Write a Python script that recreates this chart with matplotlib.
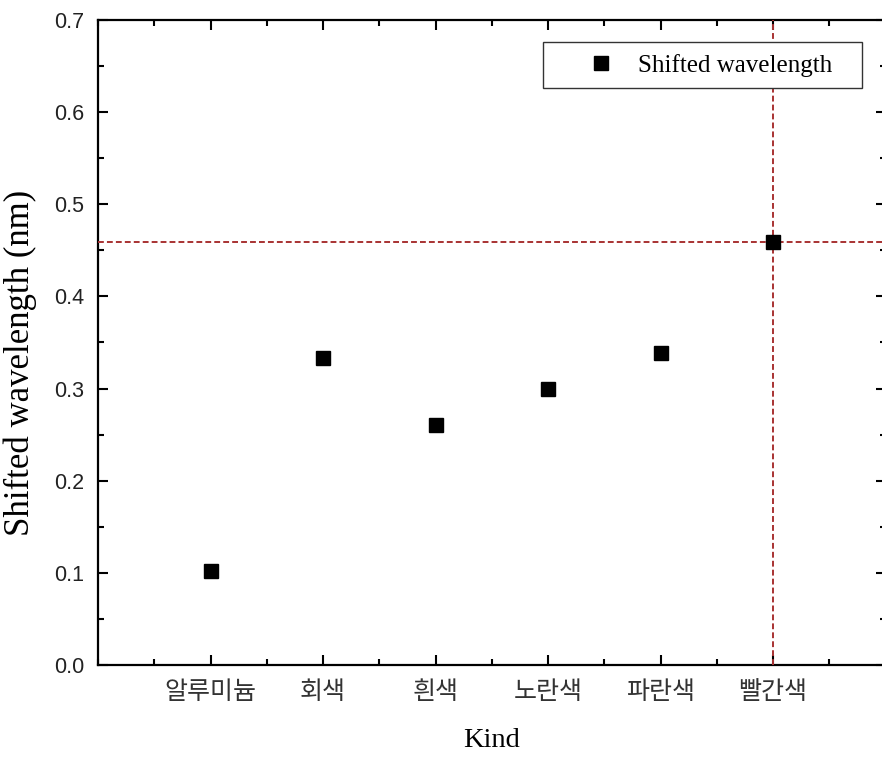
import matplotlib
matplotlib.use("Agg")
import matplotlib.pyplot as plt
from matplotlib.patches import Rectangle
from matplotlib.ticker import MultipleLocator, FormatStrFormatter

# Data
kinds = ["알루미늄", "회색", "흰색", "노란색", "파란색", "빨간색"]
shifted_nm = [0.102, 0.333, 0.261, 0.300, 0.339, 0.459]
ref_kind_pos = 6          # vertical guide at 빨간색
ref_shift = 0.459         # horizontal guide

W, H = 882, 757
fig = plt.figure(figsize=(W / 100, H / 100), dpi=100)
# right spine sits just outside the canvas, as in the reference
ax = fig.add_axes([98 / W, 1 - 665 / H, 787.6 / W, 645 / H])

x = list(range(1, len(kinds) + 1))
ax.plot(x, shifted_nm, linestyle="none", marker="s", markersize=10,
        color="black", label="Shifted wavelength", zorder=5)

guide = dict(color="#a83232", linestyle=(0, (3, 1.6)), linewidth=1.4, zorder=3)
ax.axhline(ref_shift, **guide)
ax.axvline(ref_kind_pos, **guide)

ax.set_xlim(0, 7)
ax.set_ylim(0, 0.7)
ax.set_xticks(x)
ax.set_xticklabels(kinds, family=["Noto Sans CJK KR", "DejaVu Sans"],
                   fontsize=18, color="#333333")
ax.xaxis.set_minor_locator(MultipleLocator(0.5))
ax.yaxis.set_major_locator(MultipleLocator(0.1))
ax.yaxis.set_minor_locator(MultipleLocator(0.05))
ax.yaxis.set_major_formatter(FormatStrFormatter("%.1f"))
for lab in ax.get_yticklabels():
    lab.set_family("Liberation Sans")
    lab.set_fontsize(15.5)
    lab.set_color("#222222")

ax.tick_params(which="both", direction="in", top=True, right=True, width=1.5)
ax.tick_params(which="major", length=7)
ax.tick_params(which="minor", length=4.5)
ax.tick_params(axis="y", which="major", pad=10)
ax.tick_params(axis="x", which="major", pad=10)
for s in ax.spines.values():
    s.set_linewidth(1.6)

ax.set_xlabel("Kind", family="Liberation Serif", fontsize=20.5)
ax.xaxis.set_label_coords(0.5, -0.097)
ax.set_ylabel("Shifted wavelength (nm)", family="Liberation Serif", fontsize=25)
ax.yaxis.set_label_coords(-0.078, 0.468)

# legend frame drawn separately so padding matches the reference box
ax.add_patch(Rectangle((0.565, 0.8946), 0.405, 0.0713, transform=ax.transAxes,
                       facecolor="white", edgecolor="#333333", linewidth=1.0, zorder=6))
leg = ax.legend(loc="center right", bbox_to_anchor=(0.932, 0.930),
                prop={"family": "Liberation Serif", "size": 18},
                frameon=False, borderpad=0, handletextpad=0.48,
                handlelength=2.0, borderaxespad=0)
leg.set_zorder(7)

fig.savefig("out.png", dpi=100)
